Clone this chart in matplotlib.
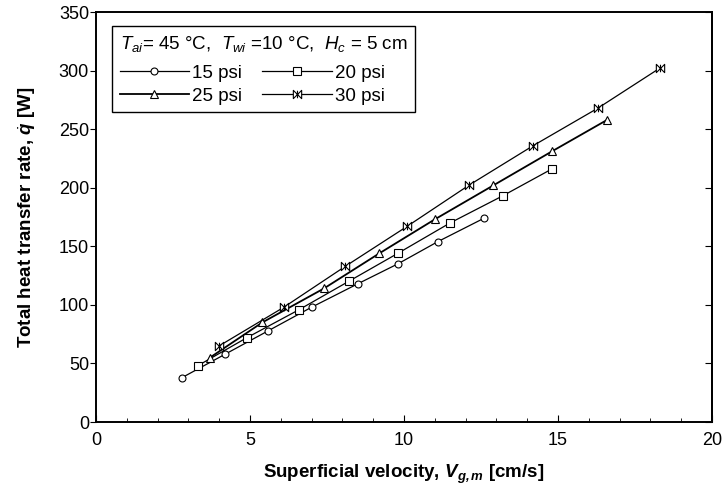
import numpy as np
import matplotlib
matplotlib.use("Agg")
import matplotlib.pyplot as plt
from matplotlib.path import Path

plt.rcParams['font.family'] = ['Liberation Sans', 'DejaVu Sans']
plt.rcParams['mathtext.fontset'] = 'custom'
plt.rcParams['mathtext.rm'] = 'Liberation Sans'
plt.rcParams['mathtext.it'] = 'Liberation Sans:italic'
plt.rcParams['mathtext.bf'] = 'Liberation Sans:bold'
plt.rcParams['mathtext.bfit'] = 'Liberation Sans:italic:bold'

# Data: velocity [cm/s] and heat rate [W]
v15 = [2.8, 4.2, 5.6, 7.0, 8.5, 9.8, 11.1, 12.6]
q15 = [38, 58, 78, 98, 118, 135, 154, 174]
v20 = [3.3, 4.9, 6.6, 8.2, 9.8, 11.5, 13.2, 14.8]
q20 = [48, 72, 96, 120, 144, 170, 193, 216]
v25 = [3.7, 5.4, 7.4, 9.2, 11.0, 12.9, 14.8, 16.6]
q25 = [55, 85, 114, 144, 173, 202, 231, 258]
v30 = [4.0, 6.1, 8.1, 10.1, 12.1, 14.2, 16.3, 18.3]
q30 = [65, 98, 133, 167, 202, 236, 268, 302]

labels = ["15 psi", "20 psi", "25 psi", "30 psi"]

# bowtie marker
bowtie = Path([(-1, -1), (1, 1), (1, -1), (-1, 1), (-1, -1), (0, -0.9), (0, 0.9)],
              [Path.MOVETO, Path.LINETO, Path.LINETO, Path.LINETO, Path.CLOSEPOLY,
               Path.MOVETO, Path.LINETO])

fig = plt.figure(figsize=(7.25, 4.94), dpi=100)
ax = fig.add_axes([0.1324, 0.1457, 0.8497, 0.8300])

style = dict(color='black', mfc='white', mec='black', mew=0.8)
h15, = ax.plot(v15, q15, marker='o', ms=5, lw=0.9, label=labels[0], **style)
h20, = ax.plot(v20, q20, marker='s', ms=6, lw=0.9, label=labels[1], **style)
h25, = ax.plot(v25, q25, marker='^', ms=6, lw=1.3, label=labels[2], **style)
h30, = ax.plot(v30, q30, marker=bowtie, ms=6, lw=0.9, label=labels[3], **style)

ax.set_xlim(0, 20)
ax.set_ylim(0, 350)
ax.set_xticks(np.arange(0, 21, 5))
ax.set_xticks(np.arange(0, 21, 1), minor=True)
ax.set_yticks(np.arange(0, 351, 50))

ax.tick_params(axis='x', which='both', direction='in', labelsize=13, pad=7)
ax.tick_params(axis='x', which='major', length=5)
ax.tick_params(axis='x', which='minor', length=3)
ax.tick_params(axis='y', direction='out', length=4, labelsize=13, pad=1)
for sp in ax.spines.values():
    sp.set_linewidth(1.4)

# inward ticks on the right edge
sec = ax.secondary_yaxis('right')
sec.set_yticks(np.arange(0, 351, 50))
sec.tick_params(direction='in', length=5, labelright=False)
sec.spines['right'].set_linewidth(1.4)

ax.set_xlabel(r"Superficial velocity, $\mathbfit{V}_{\mathbfit{g,m}}$ [cm/s]",
              fontsize=13.5, fontweight='bold', labelpad=10)
ax.set_ylabel(r"Total heat transfer rate, $\dot{\mathbfit{q}}$ [W]",
              fontsize=13.5, fontweight='bold', labelpad=15)

# order so rows read 15/20 then 25/30
leg = ax.legend([h15, h25, h20, h30], [labels[0], labels[2], labels[1], labels[3]],
                ncol=2, loc='upper left', bbox_to_anchor=(0.026, 0.9656),
                borderaxespad=0,
                title=r"$T_{ai}$= 45 °C,  $T_{wi}$ =10 °C,  $H_c$ = 5 cm",
                fontsize=13.5, title_fontsize=13.5, fancybox=False, edgecolor='black',
                handlelength=3.7, handletextpad=0.15, columnspacing=1.1,
                labelspacing=0.3, borderpad=0.4, framealpha=1)
leg._legend_box.align = "left"
leg._legend_box.sep = 8
leg.get_frame().set_linewidth(1.0)

fig.savefig("out.png", dpi=100)
